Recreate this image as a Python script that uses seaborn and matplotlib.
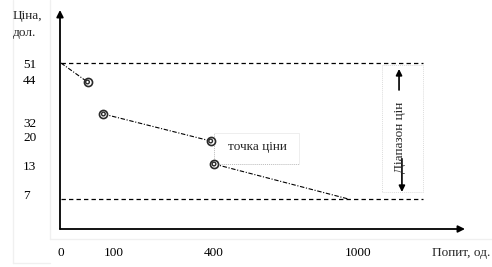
import numpy as np
import pandas as pd
import matplotlib
matplotlib.use("Agg")
import matplotlib.pyplot as plt
from matplotlib.lines import Line2D
from matplotlib.patches import Rectangle
from matplotlib.transforms import ScaledTranslation
import seaborn as sns

# ---------------- data ----------------
price_ticks = [51, 44, 32, 20, 13, 7]
demand_ticks = [0, 100, 400, 1000]
segment_id = [1, 1, 2, 2, 3, 3]
demand = [0, 50, 80, 390, 400, 960]
price = [51, 44, 32, 20, 13, 7]
marked = [False, True, True, True, True, False]

y_title = ["Ціна,", "дол."]
x_title = "Попит, од."
point_label = "точка ціни"
range_label = "Діапазон цін"

# ---------------- layout (schematic scale knots, pixel positions) ----------------
W, H = 492, 267
X_KNOT_VAL = [0, 100, 400, 1000]
X_KNOT_PX = [61, 114, 214, 358]
Y_KNOT_VAL = [7, 13, 20, 32, 44, 51]
Y_KNOT_PX = [199, 164, 141, 114, 82, 63]
# vertical nudges (px, downwards) of y tick labels, same order as price_ticks
Y_LABEL_NUDGE = [1, -2, 9, -4, 2, -4]


def piecewise(vals, pos):
    vals = np.asarray(vals, float)
    pos = np.asarray(pos, float)
    s0 = (pos[1] - pos[0]) / (vals[1] - vals[0])
    s1 = (pos[-1] - pos[-2]) / (vals[-1] - vals[-2])
    big = 1e6
    v = np.concatenate([[vals[0] - big], vals, [vals[-1] + big]])
    p = np.concatenate([[pos[0] - big * s0], pos, [pos[-1] + big * s1]])
    return (lambda x: np.interp(x, v, p)), (lambda y: np.interp(y, p, v))


fx, ix = piecewise(X_KNOT_VAL, X_KNOT_PX)
fy, iy = piecewise(Y_KNOT_VAL, [H - p for p in Y_KNOT_PX])

df = pd.DataFrame({"segment": segment_id, "demand": demand, "price": price,
                   "marked": marked})

sns.set_theme(style="white")
plt.rcParams["font.family"] = ["Liberation Serif", "DejaVu Serif"]
FS = 9.5

fig = plt.figure(figsize=(W / 100, H / 100), dpi=100)
fig.patch.set_facecolor("white")

# faint canvas frames
for (x0, y0, x1, y1) in [(50, 0, 50, 239), (50, 239, W, 239),
                         (13, 0, 13, 263), (13, 263, 50, 263)]:
    fig.add_artist(Line2D([x0 / W, x1 / W], [1 - y0 / H, 1 - y1 / H],
                          transform=fig.transFigure, color="#f0f0f0", lw=1))

ax_left, ax_right, ax_bottom, ax_top = 60, 465, 229, 10
ax = fig.add_axes([ax_left / W, (H - ax_bottom) / H,
                   (ax_right - ax_left) / W, (ax_bottom - ax_top) / H])
ax.set_facecolor("none")
ax.set_xscale("function", functions=(fx, ix))
ax.set_yscale("function", functions=(fy, iy))
ax.set_xlim(float(ix(ax_left)), float(ix(ax_right)))
ax.set_ylim(float(iy(H - ax_bottom)), float(iy(H - ax_top)))
for s in ax.spines.values():
    s.set_visible(False)

# price lines
sns.lineplot(data=df, x="demand", y="price", units="segment", estimator=None,
             sort=False, color="black", lw=0.8, linestyle=(0, (4, 1.5, 1, 1.5)),
             legend=False, ax=ax)
mk = df[df["marked"]]
sns.scatterplot(data=mk, x="demand", y="price", marker="o", s=34,
                facecolor="white", edgecolor="#2a2a2a", linewidth=1.2,
                zorder=4, ax=ax, legend=False)
sns.scatterplot(data=mk, x="demand", y="price", marker="o", s=7,
                facecolor="none", edgecolor="#2a2a2a", linewidth=1.0,
                zorder=5, ax=ax, legend=False)

# range lines (max / min price)
ax.hlines([max(price), min(price)], 0, 1270, colors="black", lw=0.9,
          linestyles=[(0, (3.5, 2.5))])

# price point box
ax.plot([400, 400], [13, 23.6], color="#bbbbbb", lw=0.7, ls=(0, (1, 1)))
ax.plot([400, 754], [13, 13], color="#bbbbbb", lw=0.7, ls=(0, (1, 1)))
ax.plot([400, 754, 754], [23.6, 23.6, 13], color="#eeeeee", lw=0.7)
ax.text(583, 18.2, point_label, ha="center", va="center", fontsize=FS)

# price range box and arrows
ax.add_patch(Rectangle((1100, 8.2), 170, 42.1, fill=False, ec="#dddddd",
                       lw=0.7, ls=(0, (1, 1))))
ax.annotate("", xy=(1171, 48.8), xytext=(1171, 41),
            arrowprops=dict(arrowstyle="-|>", color="black", lw=1.2,
                            mutation_scale=9, shrinkA=0, shrinkB=0))
ax.annotate("", xy=(1183, 8.2), xytext=(1183, 14.6),
            arrowprops=dict(arrowstyle="-|>", color="black", lw=1.2,
                            mutation_scale=9, shrinkA=0, shrinkB=0))
ax.text(1177, 21.8, range_label, rotation=90, ha="center", va="center",
        fontsize=FS)

# axes with arrows
for xy in [(0, 1), (1, 0)]:
    ax.annotate("", xy=xy, xytext=(0, 0), xycoords="axes fraction",
                textcoords="axes fraction",
                arrowprops=dict(arrowstyle="-|>", color="black", lw=1.3,
                                mutation_scale=10, shrinkA=0, shrinkB=0))

# ticks
ax.set_xticks(demand_ticks)
ax.set_xticklabels([str(v) for v in demand_ticks])
ax.set_yticks(price_ticks)
ax.set_yticklabels([str(v) for v in price_ticks])
ax.minorticks_off()
ax.tick_params(axis="both", length=0, labelsize=FS, colors="black")
ax.tick_params(axis="x", pad=13)
ax.tick_params(axis="y", pad=(ax_left - 23) * 0.72)
for t, dy in zip(ax.get_yticklabels(), Y_LABEL_NUDGE):
    t.set_ha("left")
    t.set_transform(t.get_transform() +
                    ScaledTranslation(0, -dy / 100, fig.dpi_scale_trans))
ax.set_xlabel("")
ax.set_ylabel("")

fig.text(13 / W, 1 - 16 / H, y_title[0], ha="left", va="center", fontsize=FS)
fig.text(13 / W, 1 - 33 / H, y_title[1], ha="left", va="center", fontsize=FS)
fig.text(461 / W, 1 - 253 / H, x_title, ha="center", va="center", fontsize=FS)

fig.savefig("out.png", dpi=100, facecolor="white")
